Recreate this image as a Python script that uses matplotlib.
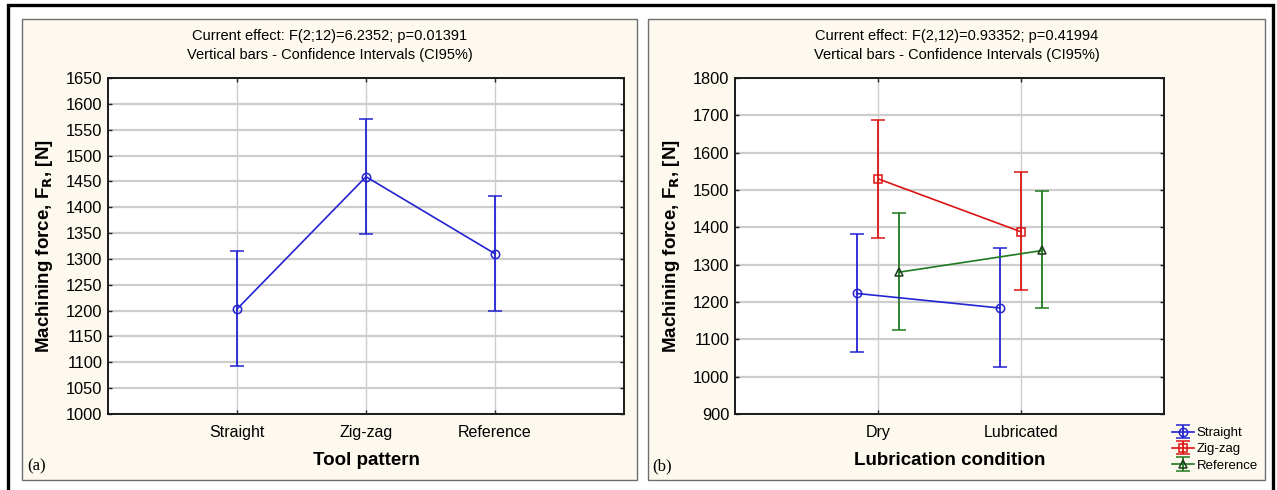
import matplotlib
matplotlib.use("Agg")
import matplotlib.pyplot as plt
from matplotlib.patches import Rectangle
import numpy as np

plt.rcParams['font.family'] = ['Liberation Sans', 'DejaVu Sans']

W, H = 1277, 490

# (a) tool pattern
patterns = ['Straight', 'Zig-zag', 'Reference']
mean_a = [1203, 1459, 1310]
low_a = [1092, 1348, 1200]
high_a = [1315, 1571, 1421]

# (b) lubrication condition, one series per tool pattern
conditions = ['Dry', 'Lubricated']
straight_mean = [1223, 1184]
straight_low = [1066, 1027]
straight_high = [1381, 1344]
zigzag_mean = [1530, 1388]
zigzag_low = [1371, 1232]
zigzag_high = [1688, 1547]
reference_mean = [1280, 1338]
reference_low = [1125, 1183]
reference_high = [1439, 1497]

BLUE = '#2323d2'
RED = '#dc1414'
GREEN = '#1e7a1e'
BEIGE = '#fdf9ee'
GRID = '#cdcdcd'


def fx(x):
    return x / W


def fy(y):
    return 1 - y / H


fig = plt.figure(figsize=(W / 100, H / 100), dpi=100)

# outer frame and panel boxes (kept behind the axes)
fig.patches.append(Rectangle((fx(8), fy(494)), fx(1265), (494 - 5) / H,
                             transform=fig.transFigure, fill=False,
                             edgecolor='black', lw=2.4, zorder=-5))
for x0, x1 in [(22, 637), (648, 1265)]:
    fig.patches.append(Rectangle((fx(x0), fy(480)), fx(x1 - x0), (480 - 19) / H,
                                 transform=fig.transFigure, facecolor=BEIGE,
                                 edgecolor='#6e6e6e', lw=1.0, zorder=-5))


def style_axes(ax, xlim, ylim, yticks, xticks, xlabels):
    ax.set_facecolor('white')
    ax.set_xlim(*xlim)
    ax.set_ylim(*ylim)
    ax.set_yticks(yticks)
    ax.set_xticks(xticks)
    ax.set_xticklabels(xlabels, fontsize=11.5)
    ax.tick_params(axis='y', labelsize=11.8, pad=4)
    ax.tick_params(axis='x', pad=8)
    ax.tick_params(direction='in', length=3, width=1, top=True, right=True,
                   color='#222222')
    ax.grid(True, axis='y', color=GRID, lw=1.6)
    ax.grid(True, axis='x', color=GRID, lw=1.0)
    ax.set_axisbelow(True)
    for s in ax.spines.values():
        s.set_linewidth(1.4)
        s.set_color('#1a1a1a')


def err(lo, m, hi):
    return [np.array(m) - np.array(lo), np.array(hi) - np.array(m)]


# ---- panel (a)
ax1 = fig.add_axes([fx(108), fy(414), fx(624 - 108), (414 - 78) / H])
xa = np.arange(1, len(patterns) + 1)
ax1.errorbar(xa, mean_a, yerr=err(low_a, mean_a, high_a), color=BLUE, lw=1.2,
             elinewidth=1.3, capsize=4.8, capthick=1.3, marker='o', ms=6,
             mfc='none', mec=BLUE, mew=1.1)
style_axes(ax1, (0, 4), (1000, 1650), np.arange(1000, 1651, 50), xa, patterns)

# ---- panel (b)
ax2 = fig.add_axes([fx(735), fy(414), fx(1164 - 735), (414 - 78) / H])
xb = np.arange(1, len(conditions) + 1)
series = [
    ('Straight', straight_mean, straight_low, straight_high, BLUE, 'o', -0.15, 6),
    ('Zig-zag', zigzag_mean, zigzag_low, zigzag_high, RED, 's', 0.0, 5.5),
    ('Reference', reference_mean, reference_low, reference_high, GREEN, '^', 0.15, 5.5),
]
handles = []
for name, m, lo, hi, col, mk, off, ms in series:
    h = ax2.errorbar(xb + off, m, yerr=err(lo, m, hi), color=col, lw=1.2,
                     elinewidth=1.3, capsize=4.8, capthick=1.3, marker=mk, ms=ms,
                     mfc='none', mec=col if mk != '^' else '#1a3a1a', mew=1.1,
                     label=name)
    handles.append(h)
style_axes(ax2, (0, 3), (900, 1800), np.arange(900, 1801, 100), xb, conditions)

fig.legend(handles=handles, labels=[s[0] for s in series], loc='upper left',
           bbox_to_anchor=(fx(1172), fy(427)), frameon=False, fontsize=9.5,
           handlelength=1.7, handletextpad=0.15, labelspacing=0.3,
           borderpad=0, borderaxespad=0)

# ---- texts
titles = [
    ('Current effect: F(2;12)=6.2352; p=0.01391', 330),
    ('Current effect: F(2,12)=0.93352; p=0.41994', 957),
]
for t, cx in titles:
    fig.text(fx(cx), fy(36), t, ha='center', va='center', fontsize=10.5)
    fig.text(fx(cx), fy(55), 'Vertical bars - Confidence Intervals (CI95%)',
             ha='center', va='center', fontsize=10.5)

ylabel = r'Machining force, F$_\mathbf{R}$, [N]'
fig.text(fx(45), fy(246), ylabel, rotation=90, ha='center', va='center',
         fontsize=13.5, fontweight='bold')
fig.text(fx(672), fy(246), ylabel, rotation=90, ha='center', va='center',
         fontsize=13.5, fontweight='bold')

fig.text(fx(366), fy(460), 'Tool pattern', ha='center', va='center',
         fontsize=13.5, fontweight='bold')
fig.text(fx(950), fy(460), 'Lubrication condition', ha='center', va='center',
         fontsize=13.5, fontweight='bold')

fig.text(fx(27), fy(466), '(a)', ha='left', va='center', fontsize=12,
         family='Liberation Serif')
fig.text(fx(652), fy(466), '(b)', ha='left', va='center', fontsize=12,
         family='Liberation Serif')

fig.savefig('out.png', dpi=100)
